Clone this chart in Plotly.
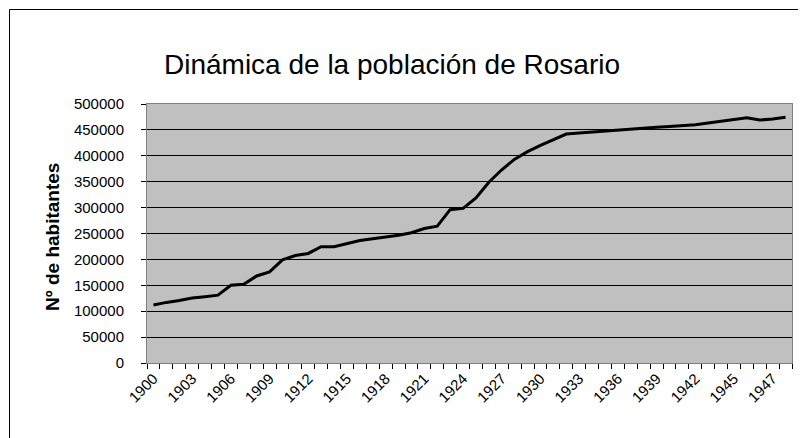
import plotly.graph_objects as go

labels = [str(y) for y in range(1900, 1946)] + ["1946", "1946", "1947", "1948"]
population = [
    112000, 117000, 120500, 125500, 128000, 131000, 150000, 152000, 168000, 176000,
    199000, 207500, 211500, 224500, 224500, 230000, 236500, 240000, 243500, 246500,
    251500, 259500, 264000, 296000, 298500, 318500, 349000, 373000, 393500, 408000,
    420000, 431500, 442000, 444000, 446000, 447800, 449700, 451600, 453500, 455300,
    456500, 458000, 460000, 463500, 466500, 469500, 473500, 469000, 471000, 474500,
]
x_idx = list(range(len(labels)))

FONT = "Liberation Sans, Arial, sans-serif"
OFF = 8  # page body margin offset

fig = go.Figure()
fig.add_trace(go.Scatter(
    x=x_idx, y=population, mode="lines",
    line=dict(color="black", width=3),
    hoverinfo="skip", showlegend=False,
))

W, H = 806, 438
L, T = 147 - OFF, 104 - OFF
pw, ph = 645, 259
R, B = W - L - pw, H - T - ph


def px_to_paper_x(px):
    return (px - OFF - L) / pw


def px_to_paper_y(py):
    return (T + ph - (py - OFF)) / ph


fig.update_layout(
    width=W, height=H,
    margin=dict(l=L, r=R, t=T, b=B, pad=0, autoexpand=False),
    paper_bgcolor="white",
    plot_bgcolor="#C0C0C0",
    font=dict(family=FONT, size=14, color="black"),
    title=dict(
        text="Dinámica de la población de Rosario",
        font=dict(family=FONT, size=28, color="black"),
        x=(392 - OFF) / W, xref="container", xanchor="center",
        y=1 - (64 - OFF) / H, yref="container", yanchor="middle",
    ),
    xaxis=dict(
        range=[-0.5, len(labels) - 0.5], automargin=False,
        tickvals=x_idx[::3], ticktext=labels[::3],
        tickangle=-45, ticks="", showgrid=False,
        showline=True, linecolor="#808080", linewidth=1, mirror=True,
        zeroline=False,
        tickfont=dict(family=FONT, size=15, color="black"),
        minor=dict(tickvals=[i - 0.5 for i in range(len(labels) + 1)],
                   ticks="outside", ticklen=5, tickcolor="black", showgrid=False),
    ),
    yaxis=dict(
        range=[0, 500000], dtick=50000, tickformat="d", automargin=False,
        ticks="outside", ticklen=5, tickcolor="black",
        ticklabelstandoff=14,
        showgrid=True, gridcolor="black", gridwidth=1,
        showline=True, linecolor="#808080", linewidth=1, mirror=True,
        zeroline=False,
        tickfont=dict(family=FONT, size=15, color="black"),
    ),
    annotations=[dict(
        text="<b>Nº de habitantes</b>", textangle=-90,
        xref="paper", yref="paper",
        x=px_to_paper_x(52), y=px_to_paper_y(237),
        xanchor="center", yanchor="middle", showarrow=False,
        font=dict(family=FONT, size=19, color="black"),
    )],
    shapes=[dict(
        type="rect", xref="paper", yref="paper",
        x0=px_to_paper_x(9.5), x1=px_to_paper_x(820),
        y0=px_to_paper_y(450), y1=px_to_paper_y(9.5),
        line=dict(color="black", width=1), fillcolor="rgba(0,0,0,0)",
        layer="below",
    )],
)

fig.write_html("out.html")
